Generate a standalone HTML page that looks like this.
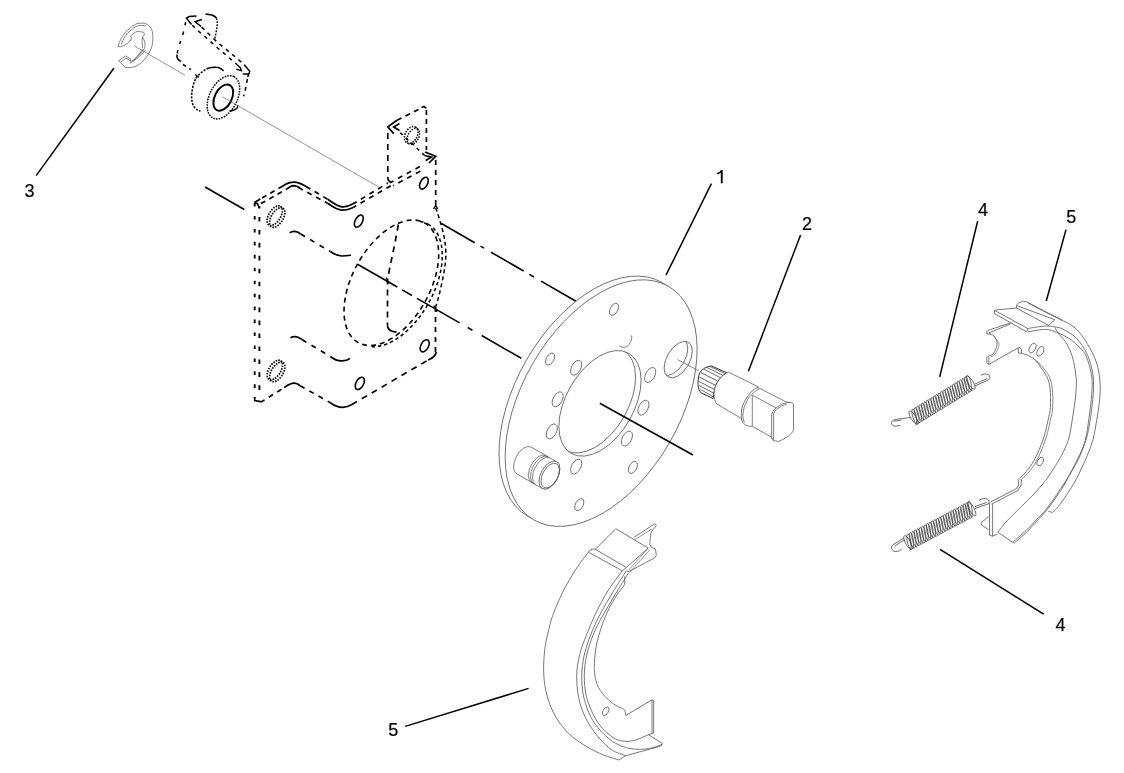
<!DOCTYPE html>
<html><head><meta charset="utf-8"><style>
html,body{margin:0;padding:0;background:#fff;width:1124px;height:773px;overflow:hidden}
svg{display:block}
text{font-family:"Liberation Sans",sans-serif}
</style></head><body>
<svg width="1124" height="773" viewBox="0 0 1124 773">
<text transform="translate(24.4 196.7) scale(1.0 1)" font-family="Liberation Sans" font-size="18" fill="#000" stroke="#000" stroke-width="0.2" style="filter:grayscale(1)">3</text>
<path d="M721.75,170.3 L721.75,183.3" stroke="#000" stroke-width="1.9" fill="none"/>
<path d="M717.2,173.7 C719.2,173.4 720.8,172.3 721.9,170.3" stroke="#000" stroke-width="1.7" fill="none"/>
<text transform="translate(802.0 229.5) scale(1.0 1)" font-family="Liberation Sans" font-size="18" fill="#000" stroke="#000" stroke-width="0.2" style="filter:grayscale(1)">2</text>
<text transform="translate(978.1 216.0) scale(1.0 1)" font-family="Liberation Sans" font-size="18" fill="#000" stroke="#000" stroke-width="0.2" style="filter:grayscale(1)">4</text>
<text transform="translate(1066.3 222.6) scale(1.0 1)" font-family="Liberation Sans" font-size="18" fill="#000" stroke="#000" stroke-width="0.2" style="filter:grayscale(1)">5</text>
<text transform="translate(1055.5 630.9) scale(1.0 1)" font-family="Liberation Sans" font-size="18" fill="#000" stroke="#000" stroke-width="0.2" style="filter:grayscale(1)">4</text>
<text transform="translate(388.2 735.7) scale(1.0 1)" font-family="Liberation Sans" font-size="18" fill="#000" stroke="#000" stroke-width="0.2" style="filter:grayscale(1)">5</text>
<line x1="36.2" y1="175.6" x2="114" y2="68" stroke="#000" stroke-width="1.5" />
<line x1="711.4" y1="183.6" x2="666" y2="275.2" stroke="#000" stroke-width="1.5" />
<line x1="800.6" y1="234.9" x2="748.4" y2="371.3" stroke="#000" stroke-width="1.5" />
<line x1="977.7" y1="221" x2="939.7" y2="376.9" stroke="#000" stroke-width="1.5" />
<line x1="1066" y1="229.6" x2="1046.3" y2="301" stroke="#000" stroke-width="1.5" />
<line x1="940" y1="549.4" x2="1043.6" y2="614.2" stroke="#000" stroke-width="1.5" />
<line x1="405.2" y1="726.4" x2="528.6" y2="688.4" stroke="#000" stroke-width="1.5" />
<path d="M118.2,46 C119.5,40 124,33 129.4,28.6 C133,25.5 136,23.5 139,23.2 L144.2,23.2 C149,24.5 152,28 152.5,33 C153.3,38 153,44 151,49 C149.5,53 146.5,57.5 142.6,61.6 C139,64.8 135,67.2 130.5,67.6 L125.5,67.4 L118.5,60.8 L125.5,56.1 L130.6,58.9" stroke="#666" stroke-width="0.8" fill="none"/>
<path d="M120.9,46.8 L118.2,46 M120.9,46.8 C124,45.8 127.9,43.7 129.8,41.5 C131.7,39.5 131.5,37.2 130.6,36 C133,34 135,32 137.2,31.3 L143.5,32.2 C145,33.5 144.5,36 142.5,36.8 L143,38 C145.2,41 145.6,45 144.5,48.5 C141.5,53 137,57.5 133,60.6 L130.6,61.6 L130.6,58.9" stroke="#666" stroke-width="0.8" fill="none"/>
<path d="M121.3,44.5 C123,39 126.5,34 131,30 C134,27.5 137,25.8 140,25.3 L145.8,25.8" stroke="#666" stroke-width="0.8" fill="none"/>
<path d="M142.5,36.8 L142,42 L142.8,48 M133,60.6 C136.5,57 140.5,53 143,48.8" stroke="#666" stroke-width="0.8" fill="none"/>
<path d="M120.5,62.3 L126,58.2 L130.2,60.6 M129.6,63.6 C135,60.5 140.5,56 145.3,50.2" stroke="#666" stroke-width="0.8" fill="none"/>
<path d="M191.5,24.5 L186.5,18.2 L189,16.6 L196.5,15.9" stroke="#000" stroke-width="1.5" fill="none"/>
<path d="M201.9,19.5 L195.1,21.8 L201,26.3" stroke="#000" stroke-width="1.5" fill="none"/>
<path d="M205.5,14.1 L211.9,15 C214.5,16 216,17 216.4,18.2" stroke="#000" stroke-width="1.5" fill="none"/>
<path d="M216.4,18.2 C217.5,21 217.3,24 217,27 L216.4,30.8 L214.6,39.9" stroke="#000" stroke-width="1.4" fill="none" stroke-dasharray="1.8 1.3" stroke-dashoffset="0"/>
<path d="M186.5,18.2 C185.5,23 184.6,27 183.4,32.3 C182,37.5 180.5,41 179.7,44.2 C178.5,48 177.5,51 177.2,54" stroke="#000" stroke-width="1.6" fill="none" stroke-dasharray="3.2 6.5" stroke-dashoffset="-4"/>
<path d="M177.2,54.5 C176.5,57.5 178,60 181,61.5" stroke="#000" stroke-width="1.6" fill="none"/>
<path d="M183,64.5 L190.9,69.5" stroke="#000" stroke-width="1.5" fill="none" stroke-dasharray="3.5 4" stroke-dashoffset="0"/>
<path d="M191.5,24.5 L199.2,31.7 L208.7,39.9 L217.7,48 L227.3,56.2 L237.2,64.8" stroke="#000" stroke-width="1.5" fill="none" stroke-dasharray="3.6 4.6" stroke-dashoffset="-1"/>
<path d="M237.2,64.8 L240.5,68 L241.3,70.6 L236.3,69.1" stroke="#000" stroke-width="1.4" fill="none"/>
<path d="M201,26.3 L207.3,32.6 L217.3,42.2 L227.3,50.3 L237.2,58.5 L244.8,65.3" stroke="#000" stroke-width="1.5" fill="none" stroke-dasharray="3.8 4.4" stroke-dashoffset="-1"/>
<path d="M244.2,64.8 L249.8,71.3 L247.7,77 M242.7,74.1 L248.4,74.1" stroke="#000" stroke-width="1.5" fill="none"/>
<path d="M247.4,79 L245.9,87.3 L243.7,96.2" stroke="#000" stroke-width="1.5" fill="none" stroke-dasharray="4 4" stroke-dashoffset="0"/>
<path d="M223.6,71 C221,68 218,67.2 216.1,67.2 C212,67 208.7,68 208.7,68" stroke="#000" stroke-width="1.5" fill="none" stroke-dasharray="9 0" stroke-dashoffset="0"/>
<path d="M208.7,68 C205,69.5 201.3,72.5 201.3,72.5 C198.5,75 196.8,76.9 196.8,76.9 C194.5,80 193.1,85.8 193.1,85.8 C191.8,91 191.6,96.2 191.6,96.2 C191.5,101 193.1,105.2 193.1,105.2 C194.5,108 196.8,109.6 196.8,109.6 C198.5,110.7 200.5,111.1 200.5,111.1" stroke="#000" stroke-width="1.5" fill="none" stroke-dasharray="2.2 1.3" stroke-dashoffset="0"/>
<path d="M195.2,74.5 L199,77.5 M197,76 L196,78.5" stroke="#000" stroke-width="1.2" fill="none"/>
<ellipse cx="223.40" cy="97.30" rx="23.20" ry="13.90" transform="rotate(-63.00 223.40 97.30)" stroke="#000" stroke-width="1.5" stroke-dasharray="1.6 1.1" fill="#fff"/>
<ellipse cx="223.30" cy="97.60" rx="14.10" ry="8.50" transform="rotate(-63.00 223.30 97.60)" stroke="#000" stroke-width="2" fill="none"/>
<path d="M229.5,111.1 C233,110.5 236,109.5 237,108.1 C237.8,107 237.7,106 237.7,105.2" stroke="#000" stroke-width="1.5" fill="none"/>
<path d="M254.7,203 L254.7,398" stroke="#000" stroke-width="1.9" fill="none" stroke-dasharray="3.6 9.35" stroke-dashoffset="0"/>
<path d="M259.4,206 L259.4,397" stroke="#000" stroke-width="1.9" fill="none" stroke-dasharray="4.6 8.35" stroke-dashoffset="2.0"/>
<path d="M254.7,397 L254.7,400.5 L262,401.8" stroke="#000" stroke-width="1.7" fill="none"/>
<path d="M254.4,202.4 L260.3,199 M254.4,202.4 L257.5,203.6 L259.3,208" stroke="#000" stroke-width="1.7" fill="none"/>
<path d="M260.3,199 L282.1,186.5" stroke="#000" stroke-width="1.7" fill="none" stroke-dasharray="5 4.5" stroke-dashoffset="-2"/>
<path d="M282.1,186.5 C286,183.8 290,182.2 294.2,182.2 C299,182.3 302.5,184.5 306,186.5" stroke="#000" stroke-width="1.7" fill="none"/>
<path d="M306,186.5 L327.8,199.3" stroke="#000" stroke-width="1.7" fill="none" stroke-dasharray="5 5" stroke-dashoffset="0"/>
<path d="M327.8,199.3 C332,202.5 337,206.2 342,206.8 C346,207.2 349.5,205.8 352.3,204.3" stroke="#000" stroke-width="1.7" fill="none"/>
<path d="M352.3,204.3 L388,183" stroke="#000" stroke-width="1.7" fill="none" stroke-dasharray="5 5" stroke-dashoffset="0"/>
<path d="M260.9,203.6 L286.4,189.3" stroke="#000" stroke-width="1.7" fill="none" stroke-dasharray="5 4.5" stroke-dashoffset="0"/>
<path d="M286.4,189.3 C289,187.3 291.5,185.8 293.6,185.6 C296.5,185.6 299,187.2 301.1,189" stroke="#000" stroke-width="1.7" fill="none"/>
<path d="M301.1,189 L327.5,203.2" stroke="#000" stroke-width="1.7" fill="none" stroke-dasharray="5 5" stroke-dashoffset="3"/>
<path d="M327.5,203.2 C333,207 337.5,210 342,210.2 C347,210.4 350.5,208.5 353.6,207.3" stroke="#000" stroke-width="1.7" fill="none"/>
<path d="M353.6,207.3 L391,185.5" stroke="#000" stroke-width="1.7" fill="none" stroke-dasharray="5 5" stroke-dashoffset="2"/>
<path d="M289.6,232.7 C292,231.2 295,230.9 297.5,232 L300.6,234" stroke="#000" stroke-width="1.7" fill="none"/>
<path d="M300.6,234 L330.3,251.5" stroke="#000" stroke-width="1.7" fill="none" stroke-dasharray="5 6" stroke-dashoffset="0"/>
<path d="M330.3,251.5 C334,254 338,256 342,256 C346,256 349,255.5 351,255.2" stroke="#000" stroke-width="1.7" fill="none"/>
<path d="M290.4,337.8 C293,336.4 296,336.3 298.5,337.5 L302,339.6" stroke="#000" stroke-width="1.7" fill="none"/>
<path d="M302,339.6 L330.4,356.5" stroke="#000" stroke-width="1.7" fill="none" stroke-dasharray="5 6" stroke-dashoffset="0"/>
<path d="M330.4,356.5 C334,359.5 338,361 342,360.9 C346,360.7 348.5,359.5 350,358.3" stroke="#000" stroke-width="1.7" fill="none"/>
<path d="M262,401.5 L284.1,387.6" stroke="#000" stroke-width="1.7" fill="none" stroke-dasharray="5 5" stroke-dashoffset="2"/>
<path d="M284.1,387.6 C288,384.8 291.5,383 294.5,383.2 C297,383.5 299,384.6 300.2,385.8" stroke="#000" stroke-width="1.7" fill="none"/>
<path d="M300.2,385.8 L330.4,402.7" stroke="#000" stroke-width="1.7" fill="none" stroke-dasharray="5 5.5" stroke-dashoffset="0"/>
<path d="M330.4,402.7 C334.5,405.8 338.5,407.4 343,407.3 C347,407.1 350,405.6 351.8,404.5" stroke="#000" stroke-width="1.7" fill="none"/>
<path d="M351.8,404.5 L428.3,360" stroke="#000" stroke-width="1.7" fill="none" stroke-dasharray="6 5.5" stroke-dashoffset="0"/>
<path d="M428.3,360 C432.5,358.2 435.5,356 436.3,352" stroke="#000" stroke-width="1.7" fill="none"/>
<path d="M435.7,160 L435.7,207" stroke="#000" stroke-width="1.7" fill="none" stroke-dasharray="5 5" stroke-dashoffset="0"/>
<path d="M435.5,307 L435.5,352" stroke="#000" stroke-width="1.7" fill="none" stroke-dasharray="5 5" stroke-dashoffset="0"/>
<path d="M433.6,209 L435.7,205.3 L437.8,209" stroke="#000" stroke-width="1.4" fill="none"/>
<path d="M387.8,132 L387.8,178" stroke="#000" stroke-width="1.7" fill="none" stroke-dasharray="6 5" stroke-dashoffset="-1"/>
<path d="M387.8,178 C388,180 389,181.5 391,182.3" stroke="#000" stroke-width="1.7" fill="none"/>
<path d="M397,120.2 L387.8,126.9 L393.7,133.6 M399.5,123.5 L393.7,126.9 L399.5,130.5" stroke="#000" stroke-width="1.7" fill="none"/>
<path d="M397,120.2 L422.2,107.6" stroke="#000" stroke-width="1.7" fill="none" stroke-dasharray="5 4.5" stroke-dashoffset="0"/>
<path d="M421.5,107.5 L424,106.5 L426.4,108.4" stroke="#000" stroke-width="1.7" fill="none"/>
<path d="M426.4,110 L426.4,150" stroke="#000" stroke-width="1.7" fill="none" stroke-dasharray="5 4" stroke-dashoffset="0"/>
<path d="M425,152 L435.7,156.3 L429,163 M424.7,155.5 L431.5,157.1 L425.6,160.5" stroke="#000" stroke-width="1.7" fill="none"/>
<path d="M390,182.8 L420,166.5" stroke="#000" stroke-width="1.7" fill="none" stroke-dasharray="5 5" stroke-dashoffset="1"/>
<path d="M393,185.8 L424,169.2" stroke="#000" stroke-width="1.7" fill="none" stroke-dasharray="5 5" stroke-dashoffset="4"/>
<path d="M399.5,132 L424.7,155.5" stroke="#000" stroke-width="1.5" fill="none" stroke-dasharray="3.5 4" stroke-dashoffset="-1"/>
<ellipse cx="411.20" cy="135.00" rx="9.00" ry="6.00" transform="rotate(-62.00 411.20 135.00)" stroke="#000" stroke-width="1.5" stroke-dasharray="1.5 1.2" fill="none"/>
<ellipse cx="413.40" cy="136.40" rx="8.60" ry="5.40" transform="rotate(-62.00 413.40 136.40)" stroke="#000" stroke-width="1.4" stroke-dasharray="1.5 1.2" fill="none"/>
<ellipse cx="358.80" cy="221.10" rx="6.60" ry="3.60" transform="rotate(-62.00 358.80 221.10)" stroke="#000" stroke-width="1.6" fill="none"/>
<ellipse cx="423.90" cy="183.20" rx="6.40" ry="3.60" transform="rotate(-62.00 423.90 183.20)" stroke="#000" stroke-width="1.6" fill="none"/>
<ellipse cx="359.80" cy="383.40" rx="6.60" ry="3.80" transform="rotate(-62.00 359.80 383.40)" stroke="#000" stroke-width="1.6" fill="none"/>
<ellipse cx="424.70" cy="345.80" rx="6.60" ry="3.80" transform="rotate(-62.00 424.70 345.80)" stroke="#000" stroke-width="1.6" fill="none"/>
<ellipse cx="274.70" cy="215.70" rx="11.00" ry="5.90" transform="rotate(-58.00 274.70 215.70)" stroke="#000" stroke-width="1.7" stroke-dasharray="1.5 1.2" fill="none"/>
<ellipse cx="277.20" cy="217.50" rx="11.00" ry="5.90" transform="rotate(-58.00 277.20 217.50)" stroke="#000" stroke-width="1.7" stroke-dasharray="1.5 1.2" fill="none"/>
<ellipse cx="274.80" cy="370.10" rx="11.00" ry="5.90" transform="rotate(-58.00 274.80 370.10)" stroke="#000" stroke-width="1.7" stroke-dasharray="1.5 1.2" fill="none"/>
<ellipse cx="277.30" cy="371.90" rx="11.00" ry="5.90" transform="rotate(-58.00 277.30 371.90)" stroke="#000" stroke-width="1.7" stroke-dasharray="1.5 1.2" fill="none"/>
<ellipse cx="391.35" cy="282.75" rx="68.40" ry="38.70" transform="rotate(-61.10 391.35 282.75)" stroke="#000" stroke-width="1.6" stroke-dasharray="5 4" fill="none"/>
<clipPath id="bore2"><polygon points="428,195 480,195 480,372 368,372 368,349"/></clipPath>
<clipPath id="bore3"><polygon points="436.5,205 480,205 480,308.5 434,308.5"/></clipPath>
<g clip-path="url(#bore2)">
<ellipse cx="394.95" cy="283.95" rx="68.40" ry="38.70" transform="rotate(-61.10 394.95 283.95)" stroke="#000" stroke-width="1.5" stroke-dasharray="3.5 2.8" fill="none"/>
</g>
<path d="M435.70,208.00 C436.17,209.37 437.17,211.73 438.50,216.20 C439.83,220.67 442.48,228.93 443.70,234.80 C444.92,240.67 445.63,245.87 445.80,251.40 C445.97,256.93 445.57,261.78 444.70,268.00 C443.83,274.22 441.80,283.18 440.60,288.70 C439.40,294.22 438.35,298.00 437.50,301.10 C436.65,304.20 435.83,306.27 435.50,307.30" stroke="#000" stroke-width="1.5" fill="none" stroke-dasharray="4 3"/>
<path d="M398.3,224.5 C395,245 390,265 387.5,280 L387.5,325.8" stroke="#000" stroke-width="1.7" fill="none" stroke-dasharray="6 5" stroke-dashoffset="0"/>
<path d="M387.5,325.8 C387.8,329 390,331.5 396.5,332.2" stroke="#000" stroke-width="1.7" fill="none"/>
<path d="M386,277.6 L389,283.6 M433.8,305.6 L437,311.6" stroke="#000" stroke-width="1.2" fill="none"/>
<line x1="134.5" y1="46" x2="185" y2="75.2" stroke="#666" stroke-width="0.7" />
<line x1="222.5" y1="96.8" x2="378.7" y2="187" stroke="#666" stroke-width="0.7" />
<line x1="205.1" y1="187" x2="244.3" y2="209.5" stroke="#000" stroke-width="1.6" />
<line x1="441" y1="223.3" x2="474.7" y2="242.77" stroke="#000" stroke-width="1.6" />
<line x1="480.5" y1="246.12" x2="484" y2="248.14" stroke="#000" stroke-width="1.6" />
<line x1="491" y1="252.19" x2="523.6" y2="271.02" stroke="#000" stroke-width="1.6" />
<line x1="529.4" y1="274.38" x2="534" y2="277.03" stroke="#000" stroke-width="1.6" />
<line x1="541" y1="281.08" x2="576" y2="301.3" stroke="#000" stroke-width="1.6" />
<line x1="357.5" y1="264.2" x2="397.3" y2="287.06" stroke="#000" stroke-width="1.6" />
<line x1="402.2" y1="289.88" x2="412" y2="295.51" stroke="#000" stroke-width="1.6" />
<line x1="417" y1="298.38" x2="459.6" y2="322.85" stroke="#000" stroke-width="1.6" />
<line x1="467.7" y1="327.51" x2="472.4" y2="330.21" stroke="#000" stroke-width="1.6" />
<line x1="481.7" y1="335.55" x2="521.3" y2="358.3" stroke="#000" stroke-width="1.6" />
<ellipse cx="594.98" cy="399.39" rx="134.81" ry="79.03" transform="rotate(-60.09 594.98 399.39)" stroke="#555" stroke-width="0.75" fill="#fff"/>
<ellipse cx="601.13" cy="403.11" rx="134.81" ry="79.03" transform="rotate(-60.09 601.13 403.11)" stroke="#555" stroke-width="0.75" fill="#fff"/>
<clipPath id="chole"><ellipse cx="599.97" cy="403.36" rx="57.75" ry="33.86" transform="rotate(-60.09 599.97 403.36)"/></clipPath>
<ellipse cx="599.97" cy="403.36" rx="57.75" ry="33.86" transform="rotate(-60.09 599.97 403.36)" stroke="#555" stroke-width="0.75" fill="none"/>
<g clip-path="url(#chole)">
<ellipse cx="594.47" cy="400.16" rx="57.75" ry="33.86" transform="rotate(-60.09 594.47 400.16)" stroke="#555" stroke-width="0.75" fill="none"/>
</g>
<ellipse cx="576.20" cy="367.70" rx="8.10" ry="4.60" transform="rotate(-62.00 576.20 367.70)" stroke="#555" stroke-width="0.75" fill="#fff"/>
<ellipse cx="650.20" cy="375.00" rx="8.10" ry="4.60" transform="rotate(-62.00 650.20 375.00)" stroke="#555" stroke-width="0.75" fill="#fff"/>
<ellipse cx="557.70" cy="399.30" rx="8.10" ry="4.60" transform="rotate(-62.00 557.70 399.30)" stroke="#555" stroke-width="0.75" fill="#fff"/>
<ellipse cx="643.40" cy="407.70" rx="8.10" ry="4.60" transform="rotate(-62.00 643.40 407.70)" stroke="#555" stroke-width="0.75" fill="#fff"/>
<ellipse cx="551.80" cy="431.40" rx="8.10" ry="4.60" transform="rotate(-62.00 551.80 431.40)" stroke="#555" stroke-width="0.75" fill="#fff"/>
<ellipse cx="626.90" cy="438.60" rx="8.10" ry="4.60" transform="rotate(-62.00 626.90 438.60)" stroke="#555" stroke-width="0.75" fill="#fff"/>
<ellipse cx="576.20" cy="466.60" rx="8.10" ry="4.60" transform="rotate(-62.00 576.20 466.60)" stroke="#555" stroke-width="0.75" fill="#fff"/>
<ellipse cx="614.00" cy="309.30" rx="6.50" ry="3.80" transform="rotate(-62.00 614.00 309.30)" stroke="#555" stroke-width="0.75" fill="#fff"/>
<ellipse cx="550.10" cy="359.00" rx="6.50" ry="3.80" transform="rotate(-62.00 550.10 359.00)" stroke="#555" stroke-width="0.75" fill="#fff"/>
<ellipse cx="632.90" cy="467.40" rx="6.50" ry="3.80" transform="rotate(-62.00 632.90 467.40)" stroke="#555" stroke-width="0.75" fill="#fff"/>
<ellipse cx="579.30" cy="504.60" rx="6.50" ry="3.80" transform="rotate(-62.00 579.30 504.60)" stroke="#555" stroke-width="0.75" fill="#fff"/>
<ellipse cx="678.20" cy="359.60" rx="20.00" ry="11.40" transform="rotate(-60.00 678.20 359.60)" stroke="#555" stroke-width="0.75" fill="#fff"/>
<clipPath id="shole"><ellipse cx="678.2" cy="359.6" rx="20" ry="11.4" transform="rotate(-60 678.2 359.6)"/></clipPath>
<g clip-path="url(#shole)">
<ellipse cx="673.70" cy="357.10" rx="20.00" ry="11.40" transform="rotate(-60.00 673.70 357.10)" stroke="#555" stroke-width="0.75" fill="none"/>
</g>
<line x1="599.8" y1="403.3" x2="693" y2="455" stroke="#000" stroke-width="1.6" />
<line x1="677.8" y1="359.6" x2="698.5" y2="370.8" stroke="#555" stroke-width="0.7" />
<path d="M631.5,335.5 C632.5,339 630.5,344 626.5,346.8 C623.5,347.8 620.5,347 619.2,345.8" stroke="#555" stroke-width="0.75" fill="none" />
<path d="M531.14,447.08 L556.54,461.68 A15.20,8.60 -62.00 0 1 542.26,488.52 L516.86,473.92 A15.20,8.60 -62.00 0 1 531.14,447.08 Z" stroke="#555" stroke-width="0.75" fill="#fff"/>
<path d="M531.60,482.39 A15.20,8.60 -62.00 0 1 545.87,455.55" stroke="#555" stroke-width="0.75" fill="none"/>
<path d="M533.63,483.56 A15.20,8.60 -62.00 0 1 547.90,456.72" stroke="#555" stroke-width="0.75" fill="none"/>
<path d="M535.66,484.72 A15.20,8.60 -62.00 0 1 549.93,457.88" stroke="#555" stroke-width="0.75" fill="none"/>
<ellipse cx="549.40" cy="475.10" rx="15.20" ry="8.60" transform="rotate(-62.00 549.40 475.10)" stroke="#555" stroke-width="0.75" fill="#fff"/>
<ellipse cx="550.20" cy="475.60" rx="13.40" ry="7.60" transform="rotate(-62.00 550.20 475.60)" stroke="#555" stroke-width="0.75" fill="none"/>
<path d="M711.3,365.9 L726.7,372.7 C720,377.5 715.5,383 714.5,390 L713.1,398.5 L701.3,393 C697.2,389 697.2,381 699.5,373.1 C702,369 706,366.8 711.3,365.9 Z" stroke="#333" stroke-width="1.0" fill="#fff"/>
<line x1="704" y1="369.2" x2="720.5" y2="377.8" stroke="#444" stroke-width="0.8" />
<line x1="700.8" y1="372.5" x2="717.5" y2="381" stroke="#444" stroke-width="0.8" />
<line x1="699" y1="377" x2="716" y2="385.5" stroke="#444" stroke-width="0.8" />
<line x1="698.6" y1="381.2" x2="715" y2="389.8" stroke="#444" stroke-width="0.8" />
<line x1="699" y1="385.5" x2="714.5" y2="393.5" stroke="#444" stroke-width="0.8" />
<line x1="700.5" y1="389.5" x2="714" y2="397.2" stroke="#444" stroke-width="0.8" />
<line x1="706.5" y1="367.3" x2="723.5" y2="375.6" stroke="#444" stroke-width="0.8" />
<line x1="709.5" y1="366.3" x2="726" y2="374" stroke="#444" stroke-width="0.8" />
<path d="M728.5,372.2 L758.4,386.9 L752.3,390.9 L746.4,398.5 L742.2,407.8 L741.4,415.3 L743,422 L741.2,418.4 L716.7,403.9 C713.2,399.5 713,389 717.6,382.2 C720.5,377 724.5,373.5 728.5,372.2 Z" stroke="#555" stroke-width="0.75" fill="#fff"/>
<path d="M758.2,387.6 L785.9,401.9 L792.7,403.1 L793.5,404.4 L793.5,430.5 C791,434 789,436 786.8,437.2 C783,439.5 780,441 778.4,441.4 L773.3,440.6 L771.6,437.2 L752.3,426.3 C749.5,426.5 747.3,425.8 747.3,425.8 C744,424.5 742.2,423 741.4,418 L741.4,415.3 C741.2,411 742.2,407.8 742.2,407.8 C744,401 746.4,398.5 746.4,398.5 C749,394 752.3,390.9 752.3,390.9 C754.5,388.8 756.5,388 758.2,387.6 Z" stroke="#555" stroke-width="0.75" fill="#fff"/>
<path d="M759.4,389 C756,390.5 753.5,392.5 752.3,394 C749,397 747.5,400 747.5,400 C744.5,405 743.3,410 743,414 C742.8,418 743.5,421 744.5,422.5" stroke="#555" stroke-width="0.75" fill="none" />
<path d="M752.3,395.1 L752.3,426.3" stroke="#555" stroke-width="0.75" fill="none" />
<path d="M752.3,395.1 L775.8,407.8" stroke="#555" stroke-width="0.75" fill="none" />
<path d="M771.6,414.5 L771.6,438.9 M773.6,413.5 L773.6,440.2" stroke="#555" stroke-width="0.75" fill="none" />
<path d="M771.6,414.5 C773,410.5 776,407.5 777.5,406.9 C780,405 783,403.5 785.1,403.1 C787,402.6 789,402.5 790.1,402.7" stroke="#555" stroke-width="0.75" fill="none" />
<path d="M773.6,413.5 C775,410 778,408 779,407.6 C782,405.5 785,404.5 786.5,404.2" stroke="#555" stroke-width="0.75" fill="none" />
<path d="M1027.70,302.30 C1030.58,303.83 1039.02,308.40 1045.00,311.50 C1050.98,314.60 1058.38,317.98 1063.60,320.90 C1068.82,323.82 1072.37,325.23 1076.30,329.00 C1080.23,332.77 1083.88,338.05 1087.20,343.50 C1090.52,348.95 1094.10,355.65 1096.20,361.70 C1098.30,367.75 1099.20,373.77 1099.80,379.80 C1100.40,385.83 1100.40,390.65 1099.80,397.90 C1099.20,405.15 1097.68,415.25 1096.20,423.30 C1094.72,431.35 1094.20,436.95 1090.90,446.20 C1087.60,455.45 1081.40,469.32 1076.40,478.80 C1071.40,488.28 1064.87,497.50 1060.90,503.10 C1056.93,508.70 1053.98,510.85 1052.60,512.40" stroke="#555" stroke-width="0.8" fill="none"/>
<path d="M1052.6,512.4 L1048.4,511.4" stroke="#555" stroke-width="0.8" fill="none" stroke-linejoin="round"/>
<path d="M1027.70,328.50 C1030.62,328.08 1040.67,326.25 1045.20,326.00 C1049.73,325.75 1052.00,326.50 1054.90,327.00 C1057.80,327.50 1059.03,327.15 1062.60,329.00 C1066.17,330.85 1072.20,333.87 1076.30,338.10 C1080.40,342.33 1084.48,348.67 1087.20,354.40 C1089.92,360.13 1091.55,366.45 1092.60,372.50 C1093.65,378.55 1093.65,384.65 1093.50,390.70 C1093.35,396.75 1092.45,402.75 1091.70,408.80 C1090.95,414.85 1090.35,420.77 1089.00,427.00 C1087.65,433.23 1087.60,436.80 1083.60,446.20 C1079.60,455.60 1069.30,475.30 1065.00,483.40 C1060.70,491.50 1060.73,490.48 1057.80,494.80 C1054.87,499.12 1050.52,505.33 1047.40,509.30 C1044.28,513.27 1042.55,514.80 1039.10,518.60 C1035.65,522.40 1030.83,528.05 1026.70,532.10 C1022.57,536.15 1016.37,541.10 1014.30,542.90" stroke="#555" stroke-width="0.8" fill="none"/>
<path d="M1027.70,331.90 C1030.62,331.48 1040.35,329.32 1045.20,329.40 C1050.05,329.48 1052.67,330.78 1056.80,332.40 C1060.93,334.02 1066.13,336.50 1070.00,339.10 C1073.87,341.70 1077.30,345.15 1080.00,348.00 C1082.70,350.85 1084.25,351.50 1086.20,356.20 C1088.15,360.90 1090.78,369.85 1091.70,376.20 C1092.62,382.55 1092.15,387.35 1091.70,394.30 C1091.25,401.25 1090.07,410.25 1089.00,417.90 C1087.93,425.55 1087.13,433.18 1085.30,440.20 C1083.47,447.22 1081.38,453.03 1078.00,460.00 C1074.62,466.97 1070.00,474.17 1065.00,482.00 C1060.00,489.83 1052.42,501.08 1048.00,507.00 C1043.58,512.92 1042.17,513.57 1038.50,517.50 C1034.83,521.43 1030.20,526.58 1026.00,530.60 C1021.80,534.62 1015.42,539.77 1013.30,541.60" stroke="#555" stroke-width="0.8" fill="none"/>
<path d="M1054.90,327.50 C1055.53,328.55 1056.93,331.45 1058.70,333.80 C1060.47,336.15 1063.62,338.85 1065.50,341.60 C1067.38,344.35 1068.65,346.95 1070.00,350.30 C1071.35,353.65 1072.55,356.78 1073.60,361.70 C1074.65,366.62 1076.00,373.77 1076.30,379.80 C1076.60,385.83 1076.03,391.53 1075.40,397.90 C1074.77,404.27 1073.53,411.52 1072.50,418.00 C1071.47,424.48 1070.60,431.42 1069.20,436.80 C1067.80,442.18 1066.35,445.53 1064.10,450.30 C1061.85,455.07 1058.78,460.37 1055.70,465.40 C1052.62,470.43 1049.23,475.73 1045.60,480.50 C1041.97,485.27 1038.10,489.50 1033.90,494.00 C1029.70,498.50 1024.88,503.02 1020.40,507.50 C1015.92,511.98 1010.77,516.78 1007.00,520.90 C1003.23,525.02 999.33,530.32 997.80,532.20" stroke="#555" stroke-width="0.8" fill="none"/>
<path d="M997.8,532.2 L1014.3,543.4" stroke="#555" stroke-width="0.8" fill="none" stroke-linejoin="round"/>
<path d="M1054.9,319.7 L1048.1,326" stroke="#555" stroke-width="0.8" fill="none" stroke-linejoin="round"/>
<path d="M994.7,310.5 L994.2,313.4 L1026.7,331.9 L1027.7,328.5 L995.7,311 L994.7,310.5 L995.7,310 L1016.5,308.1 L1017,304.2 C1018,302.8 1019.9,302.3 1019.9,302.3 C1021.5,301.5 1023.8,301.3 1023.8,301.3 C1025.5,301.4 1027.7,302.3 1027.7,302.3" stroke="#555" stroke-width="0.8" fill="none" stroke-linejoin="round"/>
<path d="M1017,305.7 L1054.9,319.7 M1016.5,308.1 L1048.1,325.1 M1027.7,302.8 L1062.6,320.7" stroke="#555" stroke-width="0.8" fill="none" stroke-linejoin="round"/>
<path d="M1011.2,322.7 L987.9,330.4 L986.9,331.9 L986.9,333.8 L990.8,334.3 L988.9,332.8 L1010.2,324.1" stroke="#555" stroke-width="0.8" fill="none" stroke-linejoin="round"/>
<path d="M990.80,334.30 C991.28,334.55 992.73,334.75 993.70,335.80 C994.67,336.85 996.03,339.15 996.60,340.60 C997.17,342.05 997.25,343.05 997.10,344.50 C996.95,345.95 996.42,347.68 995.70,349.30 C994.98,350.92 993.93,353.07 992.80,354.20 C991.67,355.33 989.88,355.62 988.90,356.10 C987.92,356.58 987.23,356.93 986.90,357.10" stroke="#555" stroke-width="0.8" fill="none"/>
<path d="M993.20,335.00 C993.58,335.50 994.60,336.75 995.50,338.00 C996.40,339.25 998.05,341.17 998.60,342.50 C999.15,343.83 999.03,344.67 998.80,346.00 C998.57,347.33 998.00,349.00 997.20,350.50 C996.40,352.00 995.07,353.95 994.00,355.00 C992.93,356.05 991.33,356.50 990.80,356.80" stroke="#555" stroke-width="0.6" fill="none"/>
<path d="M986.9,357.1 L986.9,362.9 L988.9,364.4 L988.9,357.5 M988.9,364.4 L1018,347.9 L1019.9,347.4 L1021.4,349.3 L1021.4,353.2 L1018.5,353.2 L1018,347.9" stroke="#555" stroke-width="0.8" fill="none" stroke-linejoin="round"/>
<path d="M1021.40,353.20 C1022.45,353.53 1025.28,353.98 1027.70,355.20 C1030.12,356.42 1033.72,358.45 1035.90,360.50 C1038.08,362.55 1038.98,364.83 1040.80,367.50 C1042.62,370.17 1045.27,373.08 1046.80,376.50 C1048.33,379.92 1049.40,382.88 1050.00,388.00 C1050.60,393.12 1050.72,401.87 1050.40,407.20 C1050.08,412.53 1049.15,415.12 1048.10,420.00 C1047.05,424.88 1045.83,431.00 1044.10,436.50 C1042.37,442.00 1040.00,448.00 1037.70,453.00 C1035.40,458.00 1032.83,462.75 1030.30,466.50 C1027.77,470.25 1024.30,473.53 1022.50,475.50 C1020.70,477.47 1020.18,477.50 1019.50,478.30 C1018.82,479.10 1018.58,479.97 1018.40,480.30" stroke="#555" stroke-width="0.8" fill="none"/>
<path d="M1035.90,360.50 C1037.00,361.58 1040.32,364.40 1042.50,367.00 C1044.68,369.60 1047.38,372.65 1049.00,376.10 C1050.62,379.55 1051.58,382.52 1052.20,387.70 C1052.82,392.88 1053.00,401.82 1052.70,407.20 C1052.40,412.58 1051.45,415.07 1050.40,420.00 C1049.35,424.93 1048.13,431.20 1046.40,436.80 C1044.67,442.40 1042.32,448.48 1040.00,453.60 C1037.68,458.72 1035.08,463.68 1032.50,467.50 C1029.92,471.32 1026.32,474.53 1024.50,476.50 C1022.68,478.47 1022.08,478.83 1021.60,479.30" stroke="#555" stroke-width="0.7" fill="none"/>
<path d="M1018.4,480.3 L1018.4,485.5 L1016.4,488.6 L990.5,502.1 M1021.6,479.3 L1021,485.5 L1017.4,490.7 L991.6,504.1" stroke="#555" stroke-width="0.8" fill="none" stroke-linejoin="round"/>
<path d="M989.5,503.1 L989.5,535.2 L992.6,536.2 L992.6,504.1 M992.6,536.2 L997.2,534.1" stroke="#555" stroke-width="0.8" fill="none" stroke-linejoin="round"/>
<path d="M988.4,516.5 L981.2,522.8 L981.2,524.8 L988.4,529.5" stroke="#555" stroke-width="0.8" fill="none" stroke-linejoin="round"/>
<ellipse cx="1032.50" cy="348.10" rx="5.20" ry="3.00" transform="rotate(-62.00 1032.50 348.10)" stroke="#555" stroke-width="0.75" fill="none"/>
<ellipse cx="1040.30" cy="351.30" rx="5.20" ry="3.00" transform="rotate(-62.00 1040.30 351.30)" stroke="#555" stroke-width="0.75" fill="none"/>
<ellipse cx="1040.20" cy="461.60" rx="4.60" ry="2.70" transform="rotate(-62.00 1040.20 461.60)" stroke="#555" stroke-width="0.75" fill="none"/>
<path d="M588.40,552.20 C586.23,555.17 579.72,563.27 575.40,570.00 C571.08,576.73 566.27,585.07 562.50,592.60 C558.73,600.13 555.30,608.13 552.80,615.20 C550.30,622.27 548.87,629.03 547.50,635.00 C546.13,640.97 545.23,644.57 544.60,651.00 C543.97,657.43 543.27,666.05 543.70,673.60 C544.13,681.15 545.15,689.02 547.20,696.30 C549.25,703.58 552.22,710.90 556.00,717.30 C559.78,723.70 564.67,729.75 569.90,734.70 C575.13,739.65 581.87,743.65 587.40,747.00 C592.93,750.35 597.87,752.63 603.10,754.80 C608.33,756.97 616.18,759.13 618.80,760.00" stroke="#555" stroke-width="0.8" fill="none"/>
<path d="M618.8,760 L625.8,755.7" stroke="#555" stroke-width="0.8" fill="none" stroke-linejoin="round"/>
<path d="M622.30,570.80 C619.88,574.17 612.12,584.13 607.80,591.00 C603.48,597.87 599.62,605.50 596.40,612.00 C593.18,618.50 591.07,623.67 588.50,630.00 C585.93,636.33 582.92,643.33 581.00,650.00 C579.08,656.67 577.58,663.33 577.00,670.00 C576.42,676.67 576.75,683.67 577.50,690.00 C578.25,696.33 579.58,702.33 581.50,708.00 C583.42,713.67 585.92,718.83 589.00,724.00 C592.08,729.17 596.17,734.67 600.00,739.00 C603.83,743.33 607.70,747.22 612.00,750.00 C616.30,752.78 623.50,754.75 625.80,755.70" stroke="#555" stroke-width="0.8" fill="none"/>
<path d="M626.40,570.80 C624.10,574.43 616.78,585.73 612.60,592.60 C608.42,599.47 604.63,605.77 601.30,612.00 C597.97,618.23 595.23,623.67 592.60,630.00 C589.97,636.33 587.27,643.33 585.50,650.00 C583.73,656.67 582.50,663.33 582.00,670.00 C581.50,676.67 581.67,683.67 582.50,690.00 C583.33,696.33 584.92,702.33 587.00,708.00 C589.08,713.67 591.67,719.17 595.00,724.00 C598.33,728.83 603.17,733.58 607.00,737.00 C610.83,740.42 614.17,742.58 618.00,744.50 C621.83,746.42 625.80,747.72 630.00,748.50 C634.20,749.28 639.37,749.37 643.20,749.20 C647.03,749.03 649.80,748.32 653.00,747.50 C656.20,746.68 660.83,744.83 662.40,744.30" stroke="#555" stroke-width="0.8" fill="none"/>
<path d="M628.50,573.00 C626.33,576.50 619.58,587.25 615.50,594.00 C611.42,600.75 607.38,607.50 604.00,613.50 C600.62,619.50 597.87,623.92 595.20,630.00 C592.53,636.08 589.78,643.33 588.00,650.00 C586.22,656.67 584.97,663.33 584.50,670.00 C584.03,676.67 584.37,684.00 585.20,690.00 C586.03,696.00 587.40,700.58 589.50,706.00 C591.60,711.42 594.72,717.92 597.80,722.50 C600.88,727.08 604.55,730.55 608.00,733.50 C611.45,736.45 614.38,738.98 618.50,740.20 C622.62,741.42 627.70,741.72 632.70,740.80 C637.70,739.88 645.87,735.72 648.50,734.70" stroke="#555" stroke-width="0.8" fill="none"/>
<path d="M624.70,584.50 C622.95,586.92 617.32,593.92 614.20,599.00 C611.08,604.08 608.28,609.83 606.00,615.00 C603.72,620.17 602.17,624.58 600.50,630.00 C598.83,635.42 597.03,641.10 596.00,647.50 C594.97,653.90 594.13,662.30 594.30,668.40 C594.47,674.50 595.25,679.45 597.00,684.10 C598.75,688.75 601.75,692.80 604.80,696.30 C607.85,699.80 612.38,703.07 615.30,705.10 C618.22,707.13 620.70,707.63 622.30,708.50 C623.90,709.37 624.47,710.00 624.90,710.30" stroke="#555" stroke-width="0.8" fill="none"/>
<path d="M624.9,710.3 L625.8,715.5 L652,699.8 L653.7,700.7 L653.7,733 L648.5,734.7 M652,699.8 L652,733.5" stroke="#555" stroke-width="0.8" fill="none" stroke-linejoin="round"/>
<path d="M648.5,734.7 L662.4,743.5 L660.7,746.1 L625.8,755.7" stroke="#555" stroke-width="0.8" fill="none" stroke-linejoin="round"/>
<path d="M588.4,552.2 C589.5,550 592,549 594.8,549 L626.4,567.5 L622.3,570.8 L588.4,552.2" stroke="#555" stroke-width="0.8" fill="none" stroke-linejoin="round"/>
<path d="M595.6,549 L615.8,528.7 L648.2,548.1 L626.4,567.5" stroke="#555" stroke-width="0.8" fill="none" stroke-linejoin="round"/>
<path d="M624.7,576.4 L624.7,584.5" stroke="#555" stroke-width="0.8" fill="none" stroke-linejoin="round"/>
<path d="M633.6,537.6 L654.6,523.9 L656.3,525.5 L654.6,527.9 C652,530 650.6,533 650.6,536 C650,539 649.8,544.1 649.8,544.1 L651.4,547.3 L655.5,549 L656.3,555.4 L654.6,557.8 L628.8,571.6 L626.4,570.8" stroke="#555" stroke-width="0.8" fill="none" stroke-linejoin="round"/>
<path d="M634.5,540 L652,528.8" stroke="#555" stroke-width="0.6" fill="none" stroke-linejoin="round"/>
<path d="M648.2,548.1 L628.8,570 M649.8,549.8 L629.5,572.5" stroke="#555" stroke-width="0.6" fill="none" stroke-linejoin="round"/>
<ellipse cx="605.70" cy="711.20" rx="4.60" ry="2.60" transform="rotate(-62.00 605.70 711.20)" stroke="#555" stroke-width="0.75" fill="none"/>
<polyline points="915.45,425.37 916.02,424.72 916.42,423.57 916.63,422.01 916.64,420.13 916.46,418.07 916.10,415.95 915.60,413.92 914.99,412.11 914.33,410.65 913.67,409.62 913.06,409.09 912.54,409.10 912.17,409.63 911.97,410.66 911.95,412.10 912.14,413.85 912.53,415.80 913.09,417.79 913.79,419.70 914.59,421.39 915.45,422.73 916.31,423.64 917.12,424.04 917.83,423.92 918.41,423.26 918.81,422.11 919.02,420.55 919.02,418.67 918.84,416.61 918.48,414.49 917.98,412.46 917.37,410.65 916.71,409.19 916.05,408.16 915.44,407.63 914.93,407.64 914.55,408.18 914.35,409.20 914.34,410.64 914.53,412.40 914.91,414.34 915.47,416.33 916.17,418.24 916.97,419.93 917.83,421.27 918.69,422.18 919.50,422.59 920.22,422.46 920.79,421.80 921.19,420.65 921.40,419.09 921.41,417.21 921.22,415.15 920.86,413.03 920.36,411.00 919.76,409.20 919.10,407.73 918.44,406.70 917.82,406.17 917.31,406.18 916.93,406.72 916.73,407.74 916.72,409.18 916.91,410.94 917.29,412.88 917.85,414.88 918.55,416.78 919.36,418.47 920.21,419.81 921.07,420.72 921.89,421.13 922.60,421.00 923.17,420.34 923.57,419.19 923.78,417.63 923.79,415.76 923.61,413.69 923.25,411.57 922.75,409.55 922.14,407.74 921.48,406.27 920.82,405.24 920.21,404.71 919.69,404.72 919.32,405.26 919.12,406.29 919.10,407.73 919.29,409.48 919.68,411.42 920.24,413.42 920.94,415.32 921.74,417.01 922.60,418.36 923.46,419.26 924.27,419.67 924.98,419.54 925.56,418.88 925.96,417.73 926.17,416.17 926.17,414.30 925.99,412.23 925.63,410.12 925.13,408.09 924.52,406.28 923.86,404.81 923.20,403.78 922.59,403.26 922.08,403.26 921.70,403.80 921.50,404.83 921.49,406.27 921.68,408.02 922.06,409.96 922.62,411.96 923.32,413.87 924.12,415.55 924.98,416.90 925.84,417.81 926.65,418.21 927.37,418.08 927.94,417.42 928.34,416.28 928.55,414.71 928.56,412.84 928.37,410.77 928.01,408.66 927.51,406.63 926.91,404.82 926.25,403.36 925.59,402.33 924.97,401.80 924.46,401.81 924.08,402.34 923.88,403.37 923.87,404.81 924.06,406.56 924.44,408.51 925.00,410.50 925.70,412.41 926.51,414.09 927.36,415.44 928.22,416.35 929.04,416.75 929.75,416.62 930.32,415.97 930.72,414.82 930.93,413.26 930.94,411.38 930.76,409.32 930.40,407.20 929.90,405.17 929.29,403.36 928.63,401.90 927.97,400.87 927.36,400.34 926.84,400.35 926.47,400.88 926.27,401.91 926.25,403.35 926.44,405.10 926.83,407.05 927.39,409.04 928.09,410.95 928.89,412.64 929.75,413.98 930.61,414.89 931.42,415.29 932.13,415.17 932.71,414.51 933.11,413.36 933.32,411.80 933.32,409.92 933.14,407.86 932.78,405.74 932.28,403.71 931.67,401.90 931.01,400.44 930.35,399.41 929.74,398.88 929.23,398.89 928.85,399.43 928.65,400.45 928.64,401.89 928.83,403.65 929.21,405.59 929.77,407.58 930.47,409.49 931.27,411.18 932.13,412.52 932.99,413.43 933.80,413.84 934.52,413.71 935.09,413.05 935.49,411.90 935.70,410.34 935.71,408.46 935.52,406.40 935.16,404.28 934.66,402.25 934.06,400.45 933.40,398.98 932.74,397.95 932.12,397.42 931.61,397.43 931.23,397.97 931.03,398.99 931.02,400.43 931.21,402.19 931.59,404.13 932.15,406.13 932.85,408.03 933.66,409.72 934.51,411.06 935.37,411.97 936.19,412.38 936.90,412.25 937.47,411.59 937.87,410.44 938.08,408.88 938.09,407.01 937.91,404.94 937.55,402.82 937.05,400.80 936.44,398.99 935.78,397.52 935.12,396.49 934.51,395.96 933.99,395.97 933.62,396.51 933.42,397.54 933.40,398.98 933.59,400.73 933.98,402.67 934.54,404.67 935.24,406.57 936.04,408.26 936.90,409.61 937.76,410.51 938.57,410.92 939.28,410.79 939.86,410.13 940.26,408.98 940.47,407.42 940.47,405.55 940.29,403.48 939.93,401.37 939.43,399.34 938.82,397.53 938.16,396.06 937.50,395.03 936.89,394.51 936.38,394.51 936.00,395.05 935.80,396.08 935.79,397.52 935.98,399.27 936.36,401.21 936.92,403.21 937.62,405.12 938.42,406.80 939.28,408.15 940.14,409.06 940.95,409.46 941.67,409.33 942.24,408.67 942.64,407.53 942.85,405.96 942.86,404.09 942.67,402.02 942.31,399.91 941.81,397.88 941.21,396.07 940.55,394.61 939.89,393.58 939.27,393.05 938.76,393.06 938.38,393.59 938.18,394.62 938.17,396.06 938.36,397.81 938.74,399.76 939.30,401.75 940.00,403.66 940.81,405.34 941.66,406.69 942.52,407.60 943.34,408.00 944.05,407.87 944.62,407.22 945.02,406.07 945.23,404.51 945.24,402.63 945.06,400.57 944.70,398.45 944.20,396.42 943.59,394.61 942.93,393.15 942.27,392.12 941.66,391.59 941.14,391.60 940.77,392.13 940.57,393.16 940.55,394.60 940.74,396.35 941.13,398.30 941.69,400.29 942.39,402.20 943.19,403.89 944.05,405.23 944.91,406.14 945.72,406.54 946.43,406.42 947.01,405.76 947.41,404.61 947.62,403.05 947.62,401.17 947.44,399.11 947.08,396.99 946.58,394.96 945.97,393.15 945.31,391.69 944.65,390.66 944.04,390.13 943.53,390.14 943.15,390.68 942.95,391.70 942.94,393.14 943.13,394.90 943.51,396.84 944.07,398.83 944.77,400.74 945.57,402.43 946.43,403.77 947.29,404.68 948.10,405.09 948.82,404.96 949.39,404.30 949.79,403.15 950.00,401.59 950.01,399.71 949.82,397.65 949.46,395.53 948.96,393.50 948.36,391.70 947.70,390.23 947.04,389.20 946.42,388.67 945.91,388.68 945.53,389.22 945.33,390.24 945.32,391.68 945.51,393.44 945.89,395.38 946.45,397.38 947.15,399.28 947.96,400.97 948.81,402.31 949.67,403.22 950.49,403.63 951.20,403.50 951.77,402.84 952.17,401.69 952.38,400.13 952.39,398.26 952.21,396.19 951.85,394.07 951.35,392.05 950.74,390.24 950.08,388.77 949.42,387.74 948.81,387.21 948.29,387.22 947.92,387.76 947.72,388.79 947.70,390.23 947.89,391.98 948.28,393.92 948.84,395.92 949.54,397.82 950.34,399.51 951.20,400.86 952.06,401.76 952.87,402.17 953.58,402.04 954.16,401.38 954.56,400.23 954.77,398.67 954.77,396.80 954.59,394.73 954.23,392.62 953.73,390.59 953.12,388.78 952.46,387.31 951.80,386.28 951.19,385.76 950.68,385.76 950.30,386.30 950.10,387.33 950.09,388.77 950.28,390.52 950.66,392.46 951.22,394.46 951.92,396.37 952.72,398.05 953.58,399.40 954.44,400.31 955.25,400.71 955.97,400.58 956.54,399.92 956.94,398.78 957.15,397.21 957.16,395.34 956.97,393.27 956.61,391.16 956.11,389.13 955.51,387.32 954.85,385.86 954.19,384.83 953.57,384.30 953.06,384.31 952.68,384.84 952.48,385.87 952.47,387.31 952.66,389.06 953.04,391.01 953.60,393.00 954.30,394.91 955.11,396.59 955.96,397.94 956.82,398.85 957.64,399.25 958.35,399.12 958.92,398.47 959.32,397.32 959.53,395.76 959.54,393.88 959.36,391.82 959.00,389.70 958.50,387.67 957.89,385.86 957.23,384.40 956.57,383.37 955.96,382.84 955.44,382.85 955.07,383.38 954.87,384.41 954.85,385.85 955.04,387.60 955.43,389.55 955.99,391.54 956.69,393.45 957.49,395.14 958.35,396.48 959.21,397.39 960.02,397.79 960.73,397.67 961.31,397.01 961.71,395.86 961.92,394.30 961.92,392.42 961.74,390.36 961.38,388.24 960.88,386.21 960.27,384.40 959.61,382.94 958.95,381.91 958.34,381.38 957.83,381.39 957.45,381.93 957.25,382.95 957.24,384.39 957.43,386.15 957.81,388.09 958.37,390.08 959.07,391.99 959.87,393.68 960.73,395.02 961.59,395.93 962.40,396.34 963.12,396.21 963.69,395.55 964.09,394.40 964.30,392.84 964.31,390.96 964.12,388.90 963.76,386.78 963.26,384.75 962.66,382.95 962.00,381.48 961.34,380.45 960.72,379.92 960.21,379.93 959.83,380.47 959.63,381.49 959.62,382.93 959.81,384.69 960.19,386.63 960.75,388.63 961.45,390.53 962.26,392.22 963.11,393.56 963.97,394.47 964.79,394.88 965.50,394.75 966.07,394.09 966.47,392.94 966.68,391.38 966.69,389.51 966.51,387.44 966.15,385.32 965.65,383.30 965.04,381.49 964.38,380.02 963.72,378.99 963.11,378.46 962.59,378.47 962.22,379.01 962.02,380.04 962.00,381.48 962.19,383.23 962.58,385.17 963.14,387.17 963.84,389.07 964.64,390.76 965.50,392.11 966.36,393.01 967.17,393.42 967.88,393.29 968.46,392.63 968.86,391.48 969.07,389.92 969.07,388.05 968.89,385.98 968.53,383.87 968.03,381.84 967.42,380.03 966.76,378.56 966.10,377.53 965.49,377.01 964.98,377.01 964.60,377.55 964.40,378.58 964.39,380.02 964.58,381.77 964.96,383.71 965.52,385.71 966.22,387.62 967.02,389.30 967.88,390.65 968.74,391.56 969.55,391.96 970.27,391.83 970.84,391.17 971.24,390.03 971.45,388.46 971.46,386.59 971.27,384.52 970.91,382.41 970.41,380.38 969.81,378.57 969.15,377.11 968.49,376.08 967.87,375.55 967.36,375.56 966.98,376.09 966.78,377.12 966.77,378.56 966.96,380.31 967.34,382.26 967.90,384.25 968.60,386.16 969.41,387.84 970.26,389.19 971.12,390.10 971.94,390.50 972.65,390.37" stroke="#333" stroke-width="0.75" fill="none"/>
<ellipse cx="913.40" cy="417.60" rx="2.46" ry="7.70" transform="rotate(-31.46 913.40 417.60)" stroke="#444" stroke-width="0.7" fill="none"/>
<ellipse cx="970.60" cy="382.60" rx="2.46" ry="7.70" transform="rotate(-31.46 970.60 382.60)" stroke="#444" stroke-width="0.7" fill="none"/>
<path d="M910.4,417.5 L901.6,418.6 C897,419 893,419.8 891.8,421.5 C890.8,423.5 892,425.8 894.8,426.2 L900.2,425.5 M901.6,420 L893.5,421.2" stroke="#444" stroke-width="0.8" fill="none" stroke-linejoin="round"/>
<path d="M975,386 L988.7,379.7 C990.5,378.5 990.2,376 988.6,374.8 C986.5,373.5 983.5,373.6 980.9,375.3 M975,384 L987,378.5" stroke="#444" stroke-width="0.8" fill="none" stroke-linejoin="round"/>
<polyline points="909.59,550.59 910.21,549.96 910.69,548.82 910.99,547.26 911.11,545.36 911.05,543.26 910.82,541.10 910.43,539.02 909.93,537.16 909.35,535.64 908.74,534.56 908.15,533.99 907.63,533.96 907.21,534.49 906.94,535.51 906.84,536.97 906.92,538.75 907.19,540.74 907.63,542.80 908.22,544.77 908.93,546.52 909.71,547.94 910.52,548.91 911.31,549.37 912.04,549.29 912.66,548.66 913.13,547.52 913.44,545.96 913.56,544.06 913.50,541.96 913.26,539.80 912.88,537.72 912.37,535.86 911.79,534.34 911.19,533.26 910.60,532.69 910.08,532.66 909.66,533.19 909.39,534.21 909.29,535.67 909.37,537.45 909.64,539.44 910.08,541.50 910.67,543.47 911.37,545.22 912.16,546.64 912.97,547.61 913.76,548.07 914.49,547.99 915.10,547.36 915.58,546.22 915.88,544.66 916.01,542.76 915.94,540.66 915.71,538.50 915.32,536.42 914.82,534.56 914.24,533.04 913.63,531.96 913.04,531.39 912.52,531.36 912.11,531.89 911.84,532.91 911.74,534.37 911.82,536.15 912.08,538.14 912.52,540.20 913.11,542.17 913.82,543.92 914.60,545.34 915.41,546.31 916.21,546.77 916.93,546.69 917.55,546.06 918.02,544.92 918.33,543.36 918.45,541.46 918.39,539.36 918.15,537.20 917.77,535.12 917.27,533.26 916.69,531.74 916.08,530.66 915.49,530.09 914.97,530.06 914.55,530.59 914.28,531.61 914.18,533.07 914.26,534.85 914.53,536.84 914.97,538.90 915.56,540.87 916.27,542.62 917.05,544.04 917.86,545.01 918.65,545.47 919.38,545.39 920.00,544.76 920.47,543.62 920.78,542.06 920.90,540.16 920.84,538.06 920.60,535.90 920.21,533.82 919.71,531.96 919.13,530.44 918.53,529.36 917.94,528.79 917.41,528.76 917.00,529.29 916.73,530.31 916.63,531.77 916.71,533.55 916.98,535.54 917.42,537.60 918.00,539.57 918.71,541.32 919.49,542.74 920.31,543.71 921.10,544.17 921.82,544.09 922.44,543.46 922.92,542.32 923.22,540.76 923.34,538.86 923.28,536.76 923.05,534.60 922.66,532.52 922.16,530.66 921.58,529.14 920.97,528.06 920.38,527.49 919.86,527.46 919.45,527.99 919.18,529.01 919.07,530.47 919.16,532.25 919.42,534.24 919.86,536.30 920.45,538.27 921.16,540.02 921.94,541.44 922.75,542.41 923.54,542.87 924.27,542.79 924.89,542.16 925.36,541.02 925.67,539.46 925.79,537.56 925.73,535.46 925.49,533.30 925.11,531.22 924.60,529.36 924.03,527.84 923.42,526.76 922.83,526.19 922.31,526.16 921.89,526.69 921.62,527.71 921.52,529.17 921.60,530.95 921.87,532.94 922.31,535.00 922.90,536.97 923.60,538.72 924.39,540.14 925.20,541.11 925.99,541.57 926.72,541.49 927.34,540.86 927.81,539.72 928.11,538.16 928.24,536.26 928.17,534.16 927.94,532.00 927.55,529.92 927.05,528.06 926.47,526.54 925.86,525.46 925.27,524.89 924.75,524.86 924.34,525.39 924.07,526.41 923.97,527.87 924.05,529.65 924.31,531.64 924.75,533.70 925.34,535.67 926.05,537.42 926.83,538.84 927.64,539.81 928.44,540.27 929.16,540.19 929.78,539.56 930.26,538.42 930.56,536.86 930.68,534.96 930.62,532.86 930.38,530.70 930.00,528.62 929.50,526.76 928.92,525.24 928.31,524.16 927.72,523.59 927.20,523.56 926.78,524.09 926.51,525.11 926.41,526.57 926.49,528.35 926.76,530.34 927.20,532.40 927.79,534.37 928.50,536.12 929.28,537.54 930.09,538.51 930.88,538.97 931.61,538.89 932.23,538.26 932.70,537.12 933.01,535.56 933.13,533.66 933.07,531.56 932.83,529.40 932.45,527.32 931.94,525.46 931.36,523.94 930.76,522.86 930.17,522.29 929.64,522.26 929.23,522.79 928.96,523.81 928.86,525.27 928.94,527.05 929.21,529.04 929.65,531.10 930.24,533.07 930.94,534.82 931.72,536.24 932.54,537.21 933.33,537.67 934.06,537.59 934.67,536.96 935.15,535.82 935.45,534.26 935.58,532.36 935.51,530.26 935.28,528.10 934.89,526.02 934.39,524.16 933.81,522.64 933.20,521.56 932.61,520.99 932.09,520.96 931.68,521.49 931.41,522.51 931.30,523.97 931.39,525.75 931.65,527.74 932.09,529.80 932.68,531.77 933.39,533.52 934.17,534.94 934.98,535.91 935.78,536.37 936.50,536.29 937.12,535.66 937.59,534.52 937.90,532.96 938.02,531.06 937.96,528.96 937.72,526.80 937.34,524.72 936.83,522.86 936.26,521.34 935.65,520.26 935.06,519.69 934.54,519.66 934.12,520.19 933.85,521.21 933.75,522.67 933.83,524.45 934.10,526.44 934.54,528.50 935.13,530.47 935.83,532.22 936.62,533.64 937.43,534.61 938.22,535.07 938.95,534.99 939.57,534.36 940.04,533.22 940.35,531.66 940.47,529.76 940.41,527.66 940.17,525.50 939.78,523.42 939.28,521.56 938.70,520.04 938.09,518.96 937.51,518.39 936.98,518.36 936.57,518.89 936.30,519.91 936.20,521.37 936.28,523.15 936.54,525.14 936.98,527.20 937.57,529.17 938.28,530.92 939.06,532.34 939.87,533.31 940.67,533.77 941.39,533.69 942.01,533.06 942.49,531.92 942.79,530.36 942.91,528.46 942.85,526.36 942.62,524.20 942.23,522.12 941.73,520.26 941.15,518.74 940.54,517.66 939.95,517.09 939.43,517.06 939.01,517.59 938.74,518.61 938.64,520.07 938.72,521.85 938.99,523.84 939.43,525.90 940.02,527.87 940.73,529.62 941.51,531.04 942.32,532.01 943.11,532.47 943.84,532.39 944.46,531.76 944.93,530.62 945.24,529.06 945.36,527.16 945.30,525.06 945.06,522.90 944.68,520.82 944.17,518.96 943.59,517.44 942.99,516.36 942.40,515.79 941.88,515.76 941.46,516.29 941.19,517.31 941.09,518.77 941.17,520.55 941.44,522.54 941.88,524.60 942.47,526.57 943.17,528.32 943.96,529.74 944.77,530.71 945.56,531.17 946.29,531.09 946.90,530.46 947.38,529.32 947.68,527.76 947.81,525.86 947.74,523.76 947.51,521.60 947.12,519.52 946.62,517.66 946.04,516.14 945.43,515.06 944.84,514.49 944.32,514.46 943.91,514.99 943.64,516.01 943.54,517.47 943.62,519.25 943.88,521.24 944.32,523.30 944.91,525.27 945.62,527.02 946.40,528.44 947.21,529.41 948.01,529.87 948.73,529.79 949.35,529.16 949.82,528.02 950.13,526.46 950.25,524.56 950.19,522.46 949.95,520.30 949.57,518.22 949.07,516.36 948.49,514.84 947.88,513.76 947.29,513.19 946.77,513.16 946.35,513.69 946.08,514.71 945.98,516.17 946.06,517.95 946.33,519.94 946.77,522.00 947.36,523.97 948.07,525.72 948.85,527.14 949.66,528.11 950.45,528.57 951.18,528.49 951.80,527.86 952.27,526.72 952.58,525.16 952.70,523.26 952.64,521.16 952.40,519.00 952.01,516.92 951.51,515.06 950.93,513.54 950.33,512.46 949.74,511.89 949.21,511.86 948.80,512.39 948.53,513.41 948.43,514.87 948.51,516.65 948.78,518.64 949.22,520.70 949.80,522.67 950.51,524.42 951.29,525.84 952.11,526.81 952.90,527.27 953.62,527.19 954.24,526.56 954.72,525.42 955.02,523.86 955.14,521.96 955.08,519.86 954.85,517.70 954.46,515.62 953.96,513.76 953.38,512.24 952.77,511.16 952.18,510.59 951.66,510.56 951.25,511.09 950.98,512.11 950.87,513.57 950.96,515.35 951.22,517.34 951.66,519.40 952.25,521.37 952.96,523.12 953.74,524.54 954.55,525.51 955.34,525.97 956.07,525.89 956.69,525.26 957.16,524.12 957.47,522.56 957.59,520.66 957.53,518.56 957.29,516.40 956.91,514.32 956.40,512.46 955.83,510.94 955.22,509.86 954.63,509.29 954.11,509.26 953.69,509.79 953.42,510.81 953.32,512.27 953.40,514.05 953.67,516.04 954.11,518.10 954.70,520.07 955.40,521.82 956.19,523.24 957.00,524.21 957.79,524.67 958.52,524.59 959.14,523.96 959.61,522.82 959.91,521.26 960.04,519.36 959.97,517.26 959.74,515.10 959.35,513.02 958.85,511.16 958.27,509.64 957.66,508.56 957.07,507.99 956.55,507.96 956.14,508.49 955.87,509.51 955.77,510.97 955.85,512.75 956.11,514.74 956.55,516.80 957.14,518.77 957.85,520.52 958.63,521.94 959.44,522.91 960.24,523.37 960.96,523.29 961.58,522.66 962.06,521.52 962.36,519.96 962.48,518.06 962.42,515.96 962.18,513.80 961.80,511.72 961.30,509.86 960.72,508.34 960.11,507.26 959.52,506.69 959.00,506.66 958.58,507.19 958.31,508.21 958.21,509.67 958.29,511.45 958.56,513.44 959.00,515.50 959.59,517.47 960.30,519.22 961.08,520.64 961.89,521.61 962.68,522.07 963.41,521.99 964.03,521.36 964.50,520.22 964.81,518.66 964.93,516.76 964.87,514.66 964.63,512.50 964.25,510.42 963.74,508.56 963.16,507.04 962.56,505.96 961.97,505.39 961.44,505.36 961.03,505.89 960.76,506.91 960.66,508.37 960.74,510.15 961.01,512.14 961.45,514.20 962.04,516.17 962.74,517.92 963.52,519.34 964.34,520.31 965.13,520.77 965.86,520.69 966.47,520.06 966.95,518.92 967.25,517.36 967.38,515.46 967.31,513.36 967.08,511.20 966.69,509.12 966.19,507.26 965.61,505.74 965.00,504.66 964.41,504.09 963.89,504.06 963.48,504.59 963.21,505.61 963.10,507.07 963.19,508.85 963.45,510.84 963.89,512.90 964.48,514.87 965.19,516.62 965.97,518.04 966.78,519.01 967.58,519.47 968.30,519.39 968.92,518.76 969.39,517.62 969.70,516.06 969.82,514.16 969.76,512.06 969.52,509.90 969.14,507.82 968.63,505.96 968.06,504.44 967.45,503.36 966.86,502.79 966.34,502.76 965.92,503.29 965.65,504.31 965.55,505.77 965.63,507.55 965.90,509.54 966.34,511.60 966.93,513.57 967.63,515.32 968.42,516.74 969.23,517.71 970.02,518.17 970.75,518.09 971.37,517.46 971.84,516.32 972.15,514.76 972.27,512.86 972.21,510.76 971.97,508.60 971.58,506.52 971.08,504.66 970.50,503.14 969.89,502.06 969.31,501.49 968.78,501.46 968.37,501.99 968.10,503.01 968.00,504.47 968.08,506.25 968.34,508.24 968.78,510.30 969.37,512.27 970.08,514.02 970.86,515.44 971.67,516.41 972.47,516.87 973.19,516.79" stroke="#333" stroke-width="0.75" fill="none"/>
<ellipse cx="908.00" cy="542.60" rx="2.50" ry="7.80" transform="rotate(-27.99 908.00 542.60)" stroke="#444" stroke-width="0.7" fill="none"/>
<ellipse cx="971.60" cy="508.80" rx="2.50" ry="7.80" transform="rotate(-27.99 971.60 508.80)" stroke="#444" stroke-width="0.7" fill="none"/>
<path d="M904.1,538 L892.8,544.8 C891,546.5 891,549 893.8,551.2 C896,552 899,551.5 901.6,549.2 M904.5,540 L894.5,546" stroke="#444" stroke-width="0.8" fill="none" stroke-linejoin="round"/>
<path d="M975,508.6 L988.7,503.7 C989.5,502 989,500 987.7,499.3 C985.5,498.2 982,498.3 978.9,500.3 M975,506.6 L986.5,502.5" stroke="#444" stroke-width="0.8" fill="none" stroke-linejoin="round"/>
</svg>
</body></html>
